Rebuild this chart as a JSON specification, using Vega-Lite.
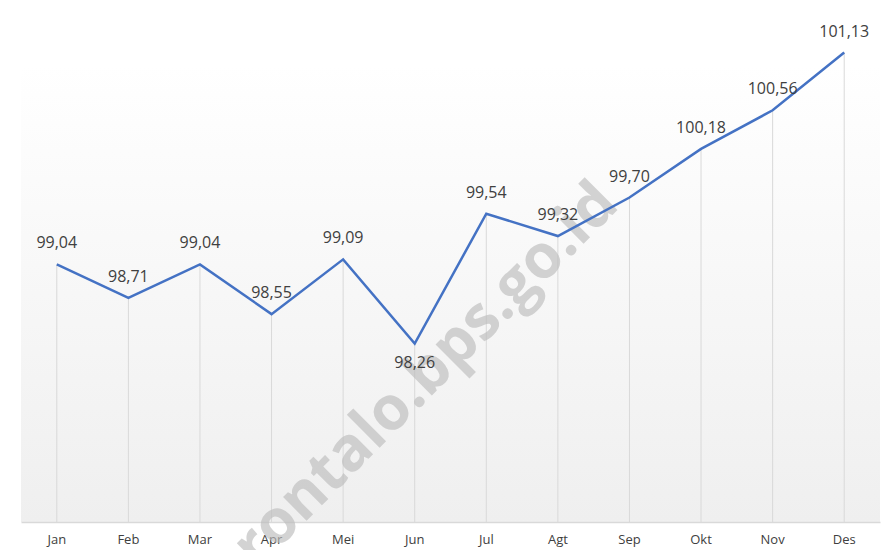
{
  "$schema": "https://vega.github.io/schema/vega-lite/v6.json",
  "width": 859,
  "height": 507,
  "autosize": {"type": "none"},
  "padding": {"left": 21, "top": 15, "right": 14, "bottom": 28},
  "background": "white",
  "config": {
    "locale": {"number": {"decimal": ",", "thousands": ".", "grouping": [3], "currency": ["Rp", ""]}},
    "font": "Open Sans",
    "view": {"stroke": null, "fill": {"gradient": "linear", "x1": 0, "y1": 0, "x2": 0, "y2": 1, "stops": [{"offset": 0, "color": "#ffffff"}, {"offset": 0.1, "color": "#ffffff"}, {"offset": 1, "color": "#efefef"}]}}
  },
  "datasets": {
    "ihk": [
      {"bulan": "Jan", "nilai": 99.04},
      {"bulan": "Feb", "nilai": 98.71},
      {"bulan": "Mar", "nilai": 99.04},
      {"bulan": "Apr", "nilai": 98.55},
      {"bulan": "Mei", "nilai": 99.09},
      {"bulan": "Jun", "nilai": 98.26},
      {"bulan": "Jul", "nilai": 99.54},
      {"bulan": "Agt", "nilai": 99.32},
      {"bulan": "Sep", "nilai": 99.70},
      {"bulan": "Okt", "nilai": 100.18},
      {"bulan": "Nov", "nilai": 100.56},
      {"bulan": "Des", "nilai": 101.13}
    ],
    "wm": [{"bulan": "Jun", "nilai": 97.83, "teks": "gorontalo.bps.go.id"}]
  },
  "encoding": {
    "x": {"field": "bulan", "type": "nominal", "sort": ["Jan", "Feb", "Mar", "Apr", "Mei", "Jun", "Jul", "Agt", "Sep", "Okt", "Nov", "Des"],
      "scale": {"paddingInner": 0, "paddingOuter": 0},
      "axis": {"title": null, "labelAngle": 0, "ticks": false, "domainColor": "#d9d9d9", "domainWidth": 1.5, "labelColor": "#404040", "labelFontSize": 13, "labelPadding": 11, "grid": false}},
    "y": {"field": "nilai", "type": "quantitative", "scale": {"domain": [96.5, 101.5], "zero": false, "nice": false}, "axis": null}
  },
  "layer": [
    {"data": {"name": "ihk"},
     "mark": {"type": "rule", "color": "#d9d9d9", "strokeWidth": 1},
     "encoding": {"y2": {"datum": 96.5}}},
    {"data": {"name": "wm"},
     "mark": {"type": "text", "angle": 315, "fontSize": 61, "fontWeight": "bold", "color": "#bdbdbd", "opacity": 0.65, "dx": -20, "clip": false},
     "encoding": {"text": {"field": "teks", "type": "nominal"}}},
    {"data": {"name": "ihk"},
     "mark": {"type": "line", "color": "#4472C4", "strokeWidth": 2.5, "clip": false}},
    {"data": {"name": "ihk"},
     "transform": [{"filter": "datum.bulan != 'Jun'"}],
     "mark": {"type": "text", "dy": -21, "fontSize": 16, "color": "#404040"},
     "encoding": {"text": {"field": "nilai", "type": "quantitative", "format": ".2f"}}},
    {"data": {"name": "ihk"},
     "transform": [{"filter": "datum.bulan == 'Jun'"}],
     "mark": {"type": "text", "dy": 19, "fontSize": 16, "color": "#404040"},
     "encoding": {"text": {"field": "nilai", "type": "quantitative", "format": ".2f"}}}
  ]
}
